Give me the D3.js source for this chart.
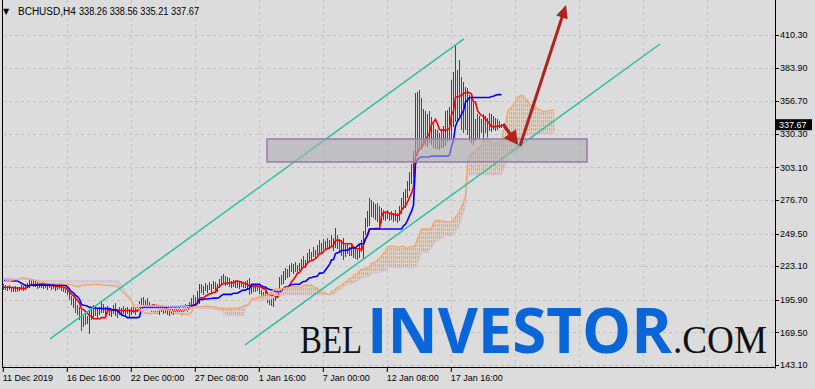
<!DOCTYPE html>
<html><head><meta charset="utf-8">
<script src="https://cdn.jsdelivr.net/npm/d3@7"></script>
<style>html,body{margin:0;padding:0;background:#dcdcdc;} svg{display:block;}</style>
</head><body>
<svg id="chart" width="815" height="389"></svg>
<script>
// ---------- DATA ----------
const symbol = "BCHUSD,H4";
const lastOHLC = ["338.26", "338.56", "335.21", "337.67"];
const lastPrice = 337.67;
const yTicks = [410.30, 383.90, 356.70, 330.30, 303.10, 276.70, 249.50, 223.10, 195.90, 169.50, 143.10];
const xTickBars = [0, 32, 64, 96, 128, 160, 192, 224];
const xTickLabels = ["11 Dec 2019", "16 Dec 16:00", "22 Dec 00:00", "27 Dec 08:00", "1 Jan 16:00", "7 Jan 00:00", "12 Jan 08:00", "17 Jan 16:00"];

// H4 bars (visible window)
const highs = [
208.5,208.0,207.0,207.5,206.5,206.0,207.0,206.0,206.5,207.5,
207.0,208.0,209.5,212.5,213.0,212.0,211.5,210.0,209.5,210.5,
209.0,209.5,208.5,209.0,208.0,208.5,207.5,208.0,208.5,207.0,
206.5,206.0,205.0,202.0,199.0,197.0,196.5,192.0,190.0,187.5,
183.0,185.0,183.0,186.5,189.0,192.0,190.5,189.0,190.0,194.0,
192.5,190.0,191.0,189.0,188.0,192.0,193.0,188.5,190.0,189.0,
190.5,189.0,190.0,188.5,190.0,191.0,189.5,192.0,195.0,197.5,
198.0,196.0,197.0,194.0,192.0,192.5,190.0,191.0,189.5,191.5,
190.0,192.0,190.5,188.5,190.0,189.0,191.0,189.5,190.5,189.0,
191.0,192.5,191.0,194.5,197.0,199.5,198.0,203.0,208.5,209.0,
207.0,209.5,208.0,210.5,208.5,211.0,210.5,209.0,212.5,215.0,
216.5,215.0,214.0,213.5,211.5,212.0,210.5,211.5,210.0,211.0,
210.5,211.5,212.0,213.5,207.0,208.0,207.5,208.0,206.5,204.0,
202.0,203.0,200.0,198.0,199.5,197.0,201.0,205.0,214.0,216.0,
219.0,222.0,221.0,224.0,226.0,225.0,226.5,224.0,226.0,229.0,
231.0,228.0,234.0,237.0,235.0,238.5,236.0,240.0,244.5,242.0,
245.0,243.5,246.0,244.0,248.0,246.0,254.0,248.0,245.0,244.0,
246.0,240.0,242.0,239.0,240.5,238.0,239.0,236.0,240.0,244.0,
252.0,262.0,268.0,278.0,277.0,275.0,273.5,274.0,272.0,270.0,
268.5,267.0,269.0,266.5,268.0,266.0,268.5,266.0,272.0,278.0,
283.0,285.5,292.0,299.0,306.0,316.0,363.0,364.0,366.0,359.0,
350.0,349.0,346.0,349.0,344.0,338.0,334.0,333.0,331.0,334.0,
337.0,349.0,349.5,352.0,374.0,380.0,402.0,382.0,390.0,376.0,
372.0,368.0,367.0,362.0,359.0,355.0,342.0,346.0,345.0,342.0,
346.0,345.0,343.0,347.0,346.0,345.0,343.0,342.0,341.0,338.56
];
const lows = [
204.0,204.5,203.5,204.0,202.8,202.5,203.0,202.5,203.5,204.0,
203.5,204.5,205.5,206.0,207.5,206.5,207.0,205.0,205.5,206.0,
205.0,205.5,204.5,205.5,204.0,205.0,203.5,204.5,205.0,203.5,
203.0,202.0,200.0,196.0,192.0,190.0,186.0,184.0,180.0,171.0,
174.0,176.0,177.0,169.0,180.0,182.0,183.0,181.5,184.0,186.0,
185.5,184.0,185.0,183.0,182.0,184.5,183.0,181.5,184.0,183.5,
185.0,183.0,184.5,182.5,184.0,185.5,184.0,186.5,188.0,189.5,
191.0,188.5,189.0,187.0,186.0,185.5,184.5,185.0,184.0,186.5,
185.0,186.0,184.0,183.5,185.0,184.0,186.0,184.5,185.5,184.0,
186.5,187.0,186.0,188.0,190.0,192.0,191.0,195.0,193.0,202.0,
200.5,203.5,201.5,204.0,202.0,205.0,203.5,203.0,206.0,208.0,
209.5,207.5,208.0,206.5,206.0,206.5,205.5,206.0,205.0,206.5,
205.5,206.0,204.5,200.5,201.0,203.0,202.5,203.5,201.0,198.0,
196.0,197.5,193.5,192.0,191.5,190.5,195.0,198.5,203.0,208.5,
209.0,212.5,214.0,215.0,218.5,217.5,219.0,218.0,220.0,221.5,
223.0,222.0,225.0,228.0,228.5,231.0,230.0,232.5,234.0,234.5,
236.5,237.0,238.5,237.5,239.0,236.0,238.5,237.5,234.0,232.0,
228.5,231.0,233.0,231.5,232.0,230.5,229.5,228.5,230.0,235.0,
229.0,249.0,255.0,256.0,263.0,262.5,261.0,259.0,257.0,258.5,
261.0,260.0,261.5,260.5,261.0,259.5,260.0,258.5,260.0,266.0,
270.0,271.0,279.0,284.0,290.0,296.0,310.0,313.0,318.0,320.0,
322.0,321.0,320.0,323.0,321.5,319.0,318.0,318.5,317.5,319.0,
319.5,321.0,324.0,325.0,326.0,336.0,340.0,341.0,345.0,334.0,
331.0,334.0,330.0,325.0,323.0,322.0,325.0,327.0,325.5,331.0,
326.0,331.0,327.0,333.0,332.0,334.0,333.0,334.0,335.0,335.21
];
const closes = [
206.0,205.0,206.5,205.0,204.0,205.5,204.0,205.0,206.0,205.0,
206.0,207.5,209.0,211.5,210.0,211.0,208.0,206.5,208.5,207.0,
208.0,206.5,207.5,206.0,207.0,205.5,206.5,207.5,206.0,205.0,
204.5,203.0,201.0,197.0,193.5,195.5,187.5,185.0,182.0,174.0,
180.0,178.0,180.5,184.0,186.0,188.0,184.5,187.0,188.5,190.0,
186.5,188.0,186.0,184.5,186.5,190.5,185.0,187.0,185.5,188.0,
186.0,187.5,185.0,186.5,188.0,187.0,188.5,191.0,193.5,196.0,
192.5,194.5,190.0,188.0,190.5,186.5,188.0,186.0,188.5,187.0,
189.0,187.0,185.0,187.5,186.0,188.5,187.0,188.0,186.5,188.5,
190.0,188.0,190.5,193.5,195.5,194.0,197.0,201.5,206.0,203.5,
205.5,204.5,206.5,205.0,207.0,209.5,205.0,208.0,211.5,213.5,
214.5,209.0,212.5,208.0,210.0,207.5,209.0,207.0,208.5,207.5,
209.0,207.0,205.0,202.0,205.5,204.0,206.0,204.5,202.0,199.0,
200.5,198.0,195.0,196.5,193.0,196.0,200.0,204.0,212.5,210.0,
217.5,220.5,215.5,222.5,220.0,223.5,220.5,222.5,224.5,227.5,
224.5,226.5,232.5,229.5,233.5,232.0,234.5,238.5,236.0,240.5,
238.0,242.0,240.0,243.0,240.5,244.5,246.5,239.0,235.5,242.5,
231.0,238.0,234.5,237.5,233.5,236.0,231.0,234.5,238.5,242.5,
250.5,260.0,266.0,274.5,270.0,264.0,269.0,261.0,259.5,266.5,
262.5,265.5,262.0,264.5,262.5,264.0,261.5,264.5,270.5,276.0,
281.5,283.0,290.0,296.5,304.0,312.0,345.0,352.0,330.0,324.0,
340.0,325.0,342.0,326.0,338.0,322.0,330.0,321.0,328.0,322.5,
334.0,346.0,330.0,348.0,368.0,376.0,390.0,350.0,355.0,340.0,
337.0,362.0,336.0,350.0,330.0,326.0,336.0,332.0,341.0,334.0,
343.0,334.0,340.0,336.0,343.0,337.0,340.5,339.0,338.26,337.67
];
const firstOpen = 206.5;

// Earlier (off-screen) bars, needed by the Ichimoku spans at the left edge
const preHighs = [
216,218,220,219,221,222,220,218,217,215,
214,216,215,213,212,214,213,211,212,210,
211,213,212,214,215,213,212,210,211,212,
214,213,215,216,214,212,213,211,210,212,
213,215,214,212,211,213,215,216,214,213,
212,214,215,217,216,218,217,219,218,220,
218,216,214,213,212,210,211,209,210,208,
209,208,207,208,209,208,208.5
];
const preLows = [
210,212,213,212,214,215,213,211,210,209,
208,209,208,207,206,208,207,206,206.5,205,
206,207,206,208,209,207,206,205,206,207,
208,207,209,210,208,206,207,205.5,205,206,
207,209,208,206,205.5,207,209,210,208,207,
206,208,209,211,210,212,211,213,212,214,
212,210,208,207,206,204.5,205,203.5,204.5,203,
204,203.5,203,204,204.5,203.5,204
];

// Drawn annotations: [bar index, price]
const channelUpper = [[23.25, 164.2], [230.25, 407.1]];
const channelLower = [[120.75, 159.3], [328.25, 403.0]];
const zoneBars = [131.75, 291.75];
const zonePrices = [307.5, 326.1];
const arrowShort = [[249.75, 338.2], [257.25, 321.2]];
const arrowLong = [[258.25, 320.4], [281.25, 434.6]];

// ---------- CHART ----------
const svg = d3.select("#chart");
const W = 815, H = 389;
const plotL = 3, plotR = 775, plotB = 368;

const x = d3.scaleLinear().domain([0, 1]).range([3.5, 5.5]);
const y = d3.scaleLinear().domain([143.1, 410.3]).range([365, 35]);

const N = highs.length, P = preHighs.length;
const allH = preHighs.concat(highs), allL = preLows.concat(lows);
function mid(g, n) {
  let hi = -Infinity, lo = Infinity;
  for (let k = Math.max(0, g - n + 1); k <= g; k++) { hi = Math.max(hi, allH[k]); lo = Math.min(lo, allL[k]); }
  return (hi + lo) / 2;
}
const tenkan = d3.range(N).map(i => ({ i, v: mid(i + P, 9) }));
const kijun = d3.range(N).map(i => ({ i, v: mid(i + P, 26) }));
const spans = d3.range(N + 26).map(j => {
  const g = j - 26 + P;
  return { i: j, a: (mid(g, 9) + mid(g, 26)) / 2, b: mid(g, 52) };
});

svg.append("rect").attr("width", W).attr("height", H).attr("fill", "#dcdcdc");

svg.append("defs").append("clipPath").attr("id", "plot")
  .append("rect").attr("x", plotL).attr("y", 0).attr("width", plotR - plotL).attr("height", plotB);

// grid
const grid = svg.append("g").attr("stroke", "#c2c2c2").attr("stroke-dasharray", "3,3").attr("stroke-width", 1);
grid.selectAll(".hg").data(yTicks).join("line")
  .attr("x1", plotL).attr("x2", plotR)
  .attr("y1", d => Math.round(y(d)) + 0.5).attr("y2", d => Math.round(y(d)) + 0.5);
const vgrid = d3.range(1, 12).map(k => k * 32).filter(b => x(b) < plotR - 3);
grid.selectAll(".vg").data(vgrid).join("line")
  .attr("x1", d => x(d)).attr("x2", d => x(d)).attr("y1", 0).attr("y2", plotB);

const plot = svg.append("g").attr("clip-path", "url(#plot)");

// OHLC bars
const opens = closes.map((c, i) => i === 0 ? firstOpen : closes[i - 1]);
plot.append("g").attr("shape-rendering", "crispEdges").selectAll("line").data(d3.range(N)).join("line")
  .attr("x1", i => x(i)).attr("x2", i => x(i))
  .attr("y1", i => y(highs[i])).attr("y2", i => y(lows[i]) + 0.5)
  .attr("stroke", i => closes[i] >= opens[i] ? "#2f4f4f" : "#ff0000")
  .attr("stroke-width", 1);

// Tenkan / Kijun
const ln = d3.line().x(d => x(d.i)).y(d => y(d.v));
plot.append("path").datum(tenkan).attr("d", ln).attr("fill", "none").attr("stroke", "#ff0000").attr("stroke-width", 1.6);
plot.append("path").datum(kijun).attr("d", ln).attr("fill", "none").attr("stroke", "#0000ff").attr("stroke-width", 1.6);

// Cloud: light tint + dotted column per bar
const cloudCol = d => d.a >= d.b ? "#f4a460" : "#d8bfd8";
plot.append("g").attr("shape-rendering", "crispEdges").selectAll("rect").data(spans).join("rect")
  .attr("x", d => x(d.i) - 1).attr("width", 2)
  .attr("y", d => y(Math.max(d.a, d.b))).attr("height", d => Math.abs(y(d.a) - y(d.b)))
  .attr("fill", cloudCol).attr("fill-opacity", 0.18);
const hatch = plot.append("g").attr("shape-rendering", "crispEdges");
spans.forEach(d => {
  const top = Math.round(y(Math.max(d.a, d.b))), bot = Math.round(y(Math.min(d.a, d.b)));
  const col = cloudCol(d);
  for (let yy = top - (top % 4); yy < bot; yy += 4) {
    const y0 = Math.max(yy, top), y1 = Math.min(yy + 3, bot);
    if (y1 > y0) hatch.append("rect").attr("x", x(d.i) - 0.5).attr("y", y0).attr("width", 1).attr("height", y1 - y0).attr("fill", col);
  }
});
plot.append("path").datum(spans).attr("d", d3.line().x(d => x(d.i)).y(d => y(d.b)))
  .attr("fill", "none").attr("stroke", "#d8bfd8").attr("stroke-width", 1.2);
plot.append("path").datum(spans).attr("d", d3.line().x(d => x(d.i)).y(d => y(d.a)))
  .attr("fill", "none").attr("stroke", "#f4a460").attr("stroke-width", 1.2);

// Channel lines
[channelUpper, channelLower].forEach(c => {
  plot.append("line")
    .attr("x1", x(c[0][0])).attr("y1", y(c[0][1]))
    .attr("x2", x(c[1][0])).attr("y2", y(c[1][1]))
    .attr("stroke", "#2ebf9f").attr("stroke-width", 1.5);
});

// Zone rectangle
plot.append("rect")
  .attr("x", x(zoneBars[0])).attr("y", y(zonePrices[1]))
  .attr("width", x(zoneBars[1]) - x(zoneBars[0]))
  .attr("height", y(zonePrices[0]) - y(zonePrices[1]))
  .attr("fill", "#aeaeb3").attr("fill-opacity", 0.6)
  .attr("stroke", "#9a7db3").attr("stroke-width", 1.6);

// Arrows
function arrow(pts, width, L, Wd) {
  const p0 = [x(pts[0][0]), y(pts[0][1])], p1 = [x(pts[1][0]), y(pts[1][1])];
  const dx = p1[0] - p0[0], dy = p1[1] - p0[1], len = Math.hypot(dx, dy);
  const u = [dx / len, dy / len], n = [-u[1], u[0]];
  const b = [p1[0] - u[0] * L, p1[1] - u[1] * L];
  plot.append("line").attr("x1", p0[0]).attr("y1", p0[1])
    .attr("x2", b[0] + u[0] * 2).attr("y2", b[1] + u[1] * 2)
    .attr("stroke", "#b0221e").attr("stroke-width", width);
  plot.append("polygon")
    .attr("points", [p1, [b[0] + n[0] * Wd / 2, b[1] + n[1] * Wd / 2], [b[0] - n[0] * Wd / 2, b[1] - n[1] * Wd / 2]].map(p => p.join(",")).join(" "))
    .attr("fill", "#b0221e");
}
arrow(arrowShort, 3.4, 14, 15);
arrow(arrowLong, 3, 13, 12);

// Watermark
const wm = svg.append("g");
wm.append("text").attr("x", 300).attr("y", 353).text("BEL")
  .attr("font-family", "Liberation Serif, serif").attr("font-size", 39).attr("fill", "#111")
  .attr("textLength", 62).attr("lengthAdjust", "spacingAndGlyphs");
wm.append("text").attr("x", 367).attr("y", 353).text("INVESTOR")
  .attr("font-family", "Open Sans, sans-serif").attr("font-weight", 700).attr("font-size", 62).attr("fill", "#0a66d8")
  .attr("textLength", 305).attr("lengthAdjust", "spacingAndGlyphs");
wm.append("text").attr("x", 673).attr("y", 353).text(".COM")
  .attr("font-family", "Liberation Serif, serif").attr("font-size", 39).attr("fill", "#111")
  .attr("textLength", 94).attr("lengthAdjust", "spacingAndGlyphs");

// Axes frame
const ax = svg.append("g").attr("stroke", "#000").attr("stroke-width", 1);
ax.append("line").attr("x1", plotR + 0.5).attr("x2", plotR + 0.5).attr("y1", 0).attr("y2", plotB + 0.5);
ax.append("line").attr("x1", 2).attr("x2", plotR + 0.5).attr("y1", plotB - 0.5).attr("y2", plotB - 0.5);
ax.append("line").attr("x1", 2.5).attr("x2", 2.5).attr("y1", 0).attr("y2", plotB);

// Y axis ticks + labels
const font = "Liberation Sans, Arial, sans-serif";
const yAx = svg.append("g");
yAx.selectAll("line").data(yTicks).join("line")
  .attr("x1", plotR).attr("x2", plotR + 4)
  .attr("y1", d => Math.round(y(d)) + 0.5).attr("y2", d => Math.round(y(d)) + 0.5)
  .attr("stroke", "#000");
yAx.selectAll("text").data(yTicks).join("text")
  .attr("x", 780).attr("y", d => y(d)).attr("dy", "0.35em")
  .attr("font-family", font).attr("font-size", 9).attr("fill", "#000")
  .text(d => d.toFixed(2));

// Current price label
const py = y(lastPrice);
svg.append("rect").attr("x", 776).attr("y", py - 5.5).attr("width", 36).attr("height", 11).attr("fill", "#000");
svg.append("text").attr("x", 779).attr("y", py).attr("dy", "0.35em")
  .attr("font-family", font).attr("font-size", 9).attr("fill", "#fff").text(lastPrice.toFixed(2));

// X axis ticks + labels
const xAx = svg.append("g");
xAx.selectAll("line").data(xTickBars).join("line")
  .attr("x1", d => x(d) - 0.2).attr("x2", d => x(d) - 0.2).attr("y1", plotB).attr("y2", plotB + 4)
  .attr("stroke", "#000");
xAx.selectAll("text").data(xTickBars).join("text")
  .attr("x", d => x(d) - 0.8).attr("y", 380.5)
  .attr("font-family", font).attr("font-size", 9).attr("fill", "#000")
  .text((d, k) => xTickLabels[k]);

// Header
svg.append("text").attr("x", 3).attr("y", 14).attr("font-family", "DejaVu Sans, sans-serif").attr("font-size", 8).text("▼");
svg.append("text").attr("x", 18).attr("y", 15).attr("font-family", font).attr("font-size", 10).text(symbol);
svg.append("text").attr("x", 79).attr("y", 15).attr("font-family", font).attr("font-size", 10)
  .attr("textLength", 120).attr("lengthAdjust", "spacingAndGlyphs").text(lastOHLC.join(" "));
</script>
</body></html>
